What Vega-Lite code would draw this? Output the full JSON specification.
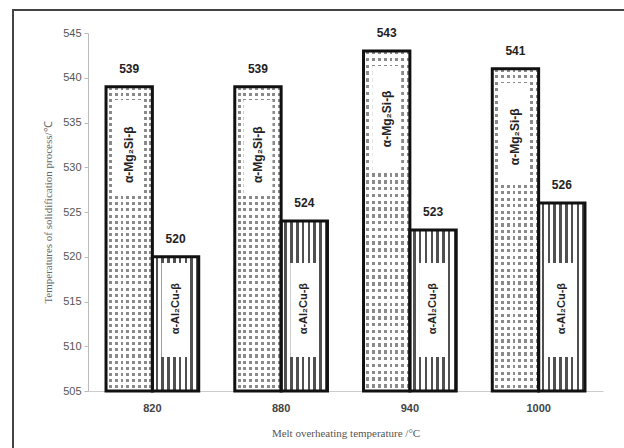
{
  "$schema": "https://vega.github.io/schema/vega-lite/v6.json",
  "width": 621,
  "height": 448,
  "autosize": {"type": "none"},
  "padding": {"left": 13, "top": 10, "right": -10, "bottom": -10},
  "background": "#ffffff",
  "config": {
    "view": {"stroke": "#444444", "strokeWidth": 2}
  },
  "data": {
    "values": [
      {"temp": "820", "phase": "Mg", "name": "α-Mg₂Si-β", "value": 539},
      {"temp": "820", "phase": "Al", "name": "α-Al₂Cu-β", "value": 520},
      {"temp": "880", "phase": "Mg", "name": "α-Mg₂Si-β", "value": 539},
      {"temp": "880", "phase": "Al", "name": "α-Al₂Cu-β", "value": 524},
      {"temp": "940", "phase": "Mg", "name": "α-Mg₂Si-β", "value": 543},
      {"temp": "940", "phase": "Al", "name": "α-Al₂Cu-β", "value": 523},
      {"temp": "1000", "phase": "Mg", "name": "α-Mg₂Si-β", "value": 541},
      {"temp": "1000", "phase": "Al", "name": "α-Al₂Cu-β", "value": 526}
    ]
  },
  "encoding": {
    "x": {
      "field": "temp", "type": "nominal", "sort": ["820", "880", "940", "1000"],
      "scale": {"range": [75, 590], "paddingInner": 0.28, "paddingOuter": 0.14},
      "axis": {"title": "Melt overheating temperature /°C", "offset": -67, "labelAngle": 0, "ticks": false, "domainColor": "#cccccc", "labelColor": "#444444", "labelFont": "Liberation Sans", "labelFontSize": 11, "labelFontWeight": "bold", "labelPadding": 11, "titleFont": "Liberation Serif", "titleFontSize": 11, "titleFontWeight": "normal", "titleColor": "#555555", "titlePadding": 14}
    },
    "xOffset": {"field": "phase", "type": "nominal", "sort": ["Mg", "Al"], "scale": {"paddingInner": 0, "paddingOuter": 0}},
    "y": {
      "field": "value", "type": "quantitative",
      "scale": {"domain": [505, 545], "range": [381, 23], "zero": false, "nice": false},
      "axis": {"title": "Temperatures of solidification process/℃", "offset": -75, "values": [505, 510, 515, 520, 525, 530, 535, 540, 545], "grid": false, "domainColor": "#bbbbbb", "tickColor": "#bbbbbb", "tickSize": 4, "labelColor": "#555555", "labelFont": "Liberation Sans", "labelFontSize": 11, "labelPadding": 3, "titleFont": "Liberation Serif", "titleFontSize": 11, "titleFontWeight": "normal", "titleColor": "#666666", "titlePadding": 9}
    }
  },
  "layer": [
    {
      "transform": [{"filter": "datum.phase === 'Mg'"}],
      "mark": {"type": "bar", "strokeWidth": 0, "fill": {"gradient": "linear", "x1": 0, "y1": 0, "x2": 1, "y2": 0, "stops": [
        {"offset": 0, "color": "#ffffff"}, {"offset": 0.0625, "color": "#ffffff"}, {"offset": 0.0625, "color": "#8a8a8a"}, {"offset": 0.125, "color": "#8a8a8a"},
        {"offset": 0.125, "color": "#ffffff"}, {"offset": 0.1875, "color": "#ffffff"}, {"offset": 0.1875, "color": "#8a8a8a"}, {"offset": 0.25, "color": "#8a8a8a"},
        {"offset": 0.25, "color": "#ffffff"}, {"offset": 0.3125, "color": "#ffffff"}, {"offset": 0.3125, "color": "#8a8a8a"}, {"offset": 0.375, "color": "#8a8a8a"},
        {"offset": 0.375, "color": "#ffffff"}, {"offset": 0.4375, "color": "#ffffff"}, {"offset": 0.4375, "color": "#8a8a8a"}, {"offset": 0.5, "color": "#8a8a8a"},
        {"offset": 0.5, "color": "#ffffff"}, {"offset": 0.5625, "color": "#ffffff"}, {"offset": 0.5625, "color": "#8a8a8a"}, {"offset": 0.625, "color": "#8a8a8a"},
        {"offset": 0.625, "color": "#ffffff"}, {"offset": 0.6875, "color": "#ffffff"}, {"offset": 0.6875, "color": "#8a8a8a"}, {"offset": 0.75, "color": "#8a8a8a"},
        {"offset": 0.75, "color": "#ffffff"}, {"offset": 0.8125, "color": "#ffffff"}, {"offset": 0.8125, "color": "#8a8a8a"}, {"offset": 0.875, "color": "#8a8a8a"},
        {"offset": 0.875, "color": "#ffffff"}, {"offset": 0.9375, "color": "#ffffff"}, {"offset": 0.9375, "color": "#8a8a8a"}, {"offset": 1, "color": "#8a8a8a"}
      ]}},
      "encoding": {"y2": {"datum": 505}}
    },
    {
      "transform": [{"filter": "datum.phase === 'Mg'"}],
      "mark": {"type": "bar", "strokeWidth": 0, "fill": {"gradient": "linear", "x1": 0, "y1": 0, "x2": 0, "y2": 1, "stops": [
        {"offset": 0, "color": "transparent"}, {"offset": 0.01, "color": "transparent"}, {"offset": 0.01, "color": "#ffffff"}, {"offset": 0.02, "color": "#ffffff"},
        {"offset": 0.02, "color": "transparent"}, {"offset": 0.03, "color": "transparent"}, {"offset": 0.03, "color": "#ffffff"}, {"offset": 0.04, "color": "#ffffff"},
        {"offset": 0.04, "color": "transparent"}, {"offset": 0.05, "color": "transparent"}, {"offset": 0.05, "color": "#ffffff"}, {"offset": 0.06, "color": "#ffffff"},
        {"offset": 0.06, "color": "transparent"}, {"offset": 0.07, "color": "transparent"}, {"offset": 0.07, "color": "#ffffff"}, {"offset": 0.08, "color": "#ffffff"},
        {"offset": 0.08, "color": "transparent"}, {"offset": 0.09, "color": "transparent"}, {"offset": 0.09, "color": "#ffffff"}, {"offset": 0.1, "color": "#ffffff"},
        {"offset": 0.1, "color": "transparent"}, {"offset": 0.11, "color": "transparent"}, {"offset": 0.11, "color": "#ffffff"}, {"offset": 0.12, "color": "#ffffff"},
        {"offset": 0.12, "color": "transparent"}, {"offset": 0.13, "color": "transparent"}, {"offset": 0.13, "color": "#ffffff"}, {"offset": 0.14, "color": "#ffffff"},
        {"offset": 0.14, "color": "transparent"}, {"offset": 0.15, "color": "transparent"}, {"offset": 0.15, "color": "#ffffff"}, {"offset": 0.16, "color": "#ffffff"},
        {"offset": 0.16, "color": "transparent"}, {"offset": 0.17, "color": "transparent"}, {"offset": 0.17, "color": "#ffffff"}, {"offset": 0.18, "color": "#ffffff"},
        {"offset": 0.18, "color": "transparent"}, {"offset": 0.19, "color": "transparent"}, {"offset": 0.19, "color": "#ffffff"}, {"offset": 0.2, "color": "#ffffff"},
        {"offset": 0.2, "color": "transparent"}, {"offset": 0.21, "color": "transparent"}, {"offset": 0.21, "color": "#ffffff"}, {"offset": 0.22, "color": "#ffffff"},
        {"offset": 0.22, "color": "transparent"}, {"offset": 0.23, "color": "transparent"}, {"offset": 0.23, "color": "#ffffff"}, {"offset": 0.24, "color": "#ffffff"},
        {"offset": 0.24, "color": "transparent"}, {"offset": 0.25, "color": "transparent"}, {"offset": 0.25, "color": "#ffffff"}, {"offset": 0.26, "color": "#ffffff"},
        {"offset": 0.26, "color": "transparent"}, {"offset": 0.27, "color": "transparent"}, {"offset": 0.27, "color": "#ffffff"}, {"offset": 0.28, "color": "#ffffff"},
        {"offset": 0.28, "color": "transparent"}, {"offset": 0.29, "color": "transparent"}, {"offset": 0.29, "color": "#ffffff"}, {"offset": 0.3, "color": "#ffffff"},
        {"offset": 0.3, "color": "transparent"}, {"offset": 0.31, "color": "transparent"}, {"offset": 0.31, "color": "#ffffff"}, {"offset": 0.32, "color": "#ffffff"},
        {"offset": 0.32, "color": "transparent"}, {"offset": 0.33, "color": "transparent"}, {"offset": 0.33, "color": "#ffffff"}, {"offset": 0.34, "color": "#ffffff"},
        {"offset": 0.34, "color": "transparent"}, {"offset": 0.35, "color": "transparent"}, {"offset": 0.35, "color": "#ffffff"}, {"offset": 0.36, "color": "#ffffff"},
        {"offset": 0.36, "color": "transparent"}, {"offset": 0.37, "color": "transparent"}, {"offset": 0.37, "color": "#ffffff"}, {"offset": 0.38, "color": "#ffffff"},
        {"offset": 0.38, "color": "transparent"}, {"offset": 0.39, "color": "transparent"}, {"offset": 0.39, "color": "#ffffff"}, {"offset": 0.4, "color": "#ffffff"},
        {"offset": 0.4, "color": "transparent"}, {"offset": 0.41, "color": "transparent"}, {"offset": 0.41, "color": "#ffffff"}, {"offset": 0.42, "color": "#ffffff"},
        {"offset": 0.42, "color": "transparent"}, {"offset": 0.43, "color": "transparent"}, {"offset": 0.43, "color": "#ffffff"}, {"offset": 0.44, "color": "#ffffff"},
        {"offset": 0.44, "color": "transparent"}, {"offset": 0.45, "color": "transparent"}, {"offset": 0.45, "color": "#ffffff"}, {"offset": 0.46, "color": "#ffffff"},
        {"offset": 0.46, "color": "transparent"}, {"offset": 0.47, "color": "transparent"}, {"offset": 0.47, "color": "#ffffff"}, {"offset": 0.48, "color": "#ffffff"},
        {"offset": 0.48, "color": "transparent"}, {"offset": 0.49, "color": "transparent"}, {"offset": 0.49, "color": "#ffffff"}, {"offset": 0.5, "color": "#ffffff"},
        {"offset": 0.5, "color": "transparent"}, {"offset": 0.51, "color": "transparent"}, {"offset": 0.51, "color": "#ffffff"}, {"offset": 0.52, "color": "#ffffff"},
        {"offset": 0.52, "color": "transparent"}, {"offset": 0.53, "color": "transparent"}, {"offset": 0.53, "color": "#ffffff"}, {"offset": 0.54, "color": "#ffffff"},
        {"offset": 0.54, "color": "transparent"}, {"offset": 0.55, "color": "transparent"}, {"offset": 0.55, "color": "#ffffff"}, {"offset": 0.56, "color": "#ffffff"},
        {"offset": 0.56, "color": "transparent"}, {"offset": 0.57, "color": "transparent"}, {"offset": 0.57, "color": "#ffffff"}, {"offset": 0.58, "color": "#ffffff"},
        {"offset": 0.58, "color": "transparent"}, {"offset": 0.59, "color": "transparent"}, {"offset": 0.59, "color": "#ffffff"}, {"offset": 0.6, "color": "#ffffff"},
        {"offset": 0.6, "color": "transparent"}, {"offset": 0.61, "color": "transparent"}, {"offset": 0.61, "color": "#ffffff"}, {"offset": 0.62, "color": "#ffffff"},
        {"offset": 0.62, "color": "transparent"}, {"offset": 0.63, "color": "transparent"}, {"offset": 0.63, "color": "#ffffff"}, {"offset": 0.64, "color": "#ffffff"},
        {"offset": 0.64, "color": "transparent"}, {"offset": 0.65, "color": "transparent"}, {"offset": 0.65, "color": "#ffffff"}, {"offset": 0.66, "color": "#ffffff"},
        {"offset": 0.66, "color": "transparent"}, {"offset": 0.67, "color": "transparent"}, {"offset": 0.67, "color": "#ffffff"}, {"offset": 0.68, "color": "#ffffff"},
        {"offset": 0.68, "color": "transparent"}, {"offset": 0.69, "color": "transparent"}, {"offset": 0.69, "color": "#ffffff"}, {"offset": 0.7, "color": "#ffffff"},
        {"offset": 0.7, "color": "transparent"}, {"offset": 0.71, "color": "transparent"}, {"offset": 0.71, "color": "#ffffff"}, {"offset": 0.72, "color": "#ffffff"},
        {"offset": 0.72, "color": "transparent"}, {"offset": 0.73, "color": "transparent"}, {"offset": 0.73, "color": "#ffffff"}, {"offset": 0.74, "color": "#ffffff"},
        {"offset": 0.74, "color": "transparent"}, {"offset": 0.75, "color": "transparent"}, {"offset": 0.75, "color": "#ffffff"}, {"offset": 0.76, "color": "#ffffff"},
        {"offset": 0.76, "color": "transparent"}, {"offset": 0.77, "color": "transparent"}, {"offset": 0.77, "color": "#ffffff"}, {"offset": 0.78, "color": "#ffffff"},
        {"offset": 0.78, "color": "transparent"}, {"offset": 0.79, "color": "transparent"}, {"offset": 0.79, "color": "#ffffff"}, {"offset": 0.8, "color": "#ffffff"},
        {"offset": 0.8, "color": "transparent"}, {"offset": 0.81, "color": "transparent"}, {"offset": 0.81, "color": "#ffffff"}, {"offset": 0.82, "color": "#ffffff"},
        {"offset": 0.82, "color": "transparent"}, {"offset": 0.83, "color": "transparent"}, {"offset": 0.83, "color": "#ffffff"}, {"offset": 0.84, "color": "#ffffff"},
        {"offset": 0.84, "color": "transparent"}, {"offset": 0.85, "color": "transparent"}, {"offset": 0.85, "color": "#ffffff"}, {"offset": 0.86, "color": "#ffffff"},
        {"offset": 0.86, "color": "transparent"}, {"offset": 0.87, "color": "transparent"}, {"offset": 0.87, "color": "#ffffff"}, {"offset": 0.88, "color": "#ffffff"},
        {"offset": 0.88, "color": "transparent"}, {"offset": 0.89, "color": "transparent"}, {"offset": 0.89, "color": "#ffffff"}, {"offset": 0.9, "color": "#ffffff"},
        {"offset": 0.9, "color": "transparent"}, {"offset": 0.91, "color": "transparent"}, {"offset": 0.91, "color": "#ffffff"}, {"offset": 0.92, "color": "#ffffff"},
        {"offset": 0.92, "color": "transparent"}, {"offset": 0.93, "color": "transparent"}, {"offset": 0.93, "color": "#ffffff"}, {"offset": 0.94, "color": "#ffffff"},
        {"offset": 0.94, "color": "transparent"}, {"offset": 0.95, "color": "transparent"}, {"offset": 0.95, "color": "#ffffff"}, {"offset": 0.96, "color": "#ffffff"},
        {"offset": 0.96, "color": "transparent"}, {"offset": 0.97, "color": "transparent"}, {"offset": 0.97, "color": "#ffffff"}, {"offset": 0.98, "color": "#ffffff"},
        {"offset": 0.98, "color": "transparent"}, {"offset": 0.99, "color": "transparent"}, {"offset": 0.99, "color": "#ffffff"}, {"offset": 1, "color": "#ffffff"}
      ]}},
      "encoding": {"y2": {"datum": 505}}
    },
    {
      "transform": [{"filter": "datum.phase === 'Al'"}],
      "mark": {"type": "bar", "strokeWidth": 0, "fill": {"gradient": "linear", "x1": 0, "y1": 0, "x2": 1, "y2": 0, "stops": [
        {"offset": 0, "color": "#ffffff"}, {"offset": 0.07, "color": "#ffffff"}, {"offset": 0.07, "color": "#505050"}, {"offset": 0.125, "color": "#505050"},
        {"offset": 0.125, "color": "#ffffff"}, {"offset": 0.195, "color": "#ffffff"}, {"offset": 0.195, "color": "#505050"}, {"offset": 0.25, "color": "#505050"},
        {"offset": 0.25, "color": "#ffffff"}, {"offset": 0.32, "color": "#ffffff"}, {"offset": 0.32, "color": "#505050"}, {"offset": 0.375, "color": "#505050"},
        {"offset": 0.375, "color": "#ffffff"}, {"offset": 0.445, "color": "#ffffff"}, {"offset": 0.445, "color": "#505050"}, {"offset": 0.5, "color": "#505050"},
        {"offset": 0.5, "color": "#ffffff"}, {"offset": 0.57, "color": "#ffffff"}, {"offset": 0.57, "color": "#505050"}, {"offset": 0.625, "color": "#505050"},
        {"offset": 0.625, "color": "#ffffff"}, {"offset": 0.695, "color": "#ffffff"}, {"offset": 0.695, "color": "#505050"}, {"offset": 0.75, "color": "#505050"},
        {"offset": 0.75, "color": "#ffffff"}, {"offset": 0.82, "color": "#ffffff"}, {"offset": 0.82, "color": "#505050"}, {"offset": 0.875, "color": "#505050"},
        {"offset": 0.875, "color": "#ffffff"}, {"offset": 0.945, "color": "#ffffff"}, {"offset": 0.945, "color": "#505050"}, {"offset": 1, "color": "#505050"}
      ]}},
      "encoding": {"y2": {"datum": 505}}
    },
    {
      "transform": [{"filter": "datum.phase === 'Mg'"}],
      "mark": {"type": "bar", "width": 29, "strokeWidth": 0, "fill": {"gradient": "linear", "x1": 0, "y1": 0, "x2": 0, "y2": 1, "stops": [
        {"offset": 0, "color": "transparent"}, {"offset": 0.045, "color": "transparent"}, {"offset": 0.045, "color": "#ffffff"}, {"offset": 0.36, "color": "#ffffff"}, {"offset": 0.36, "color": "transparent"}, {"offset": 1, "color": "transparent"}
      ]}},
      "encoding": {"y2": {"datum": 505}}
    },
    {
      "transform": [{"filter": "datum.phase === 'Al'"}],
      "mark": {"type": "bar", "width": 28, "strokeWidth": 0, "fill": "#ffffff"},
      "encoding": {"y": {"datum": 519.3}, "y2": {"datum": 508.8}}
    },
    {
      "mark": {"type": "bar", "fill": "#ffffff", "fillOpacity": 0, "stroke": "#111111", "strokeWidth": 3},
      "encoding": {"y2": {"datum": 505}}
    },
    {
      "mark": {"type": "text", "dy": -18, "baseline": "middle", "font": "Liberation Sans", "fontSize": 12, "fontWeight": "bold", "color": "#222222"},
      "encoding": {"text": {"field": "value", "type": "quantitative"}}
    },
    {
      "transform": [{"filter": "datum.phase === 'Mg'"}],
      "mark": {"type": "text", "angle": 270, "dx": -68, "align": "center", "baseline": "middle", "font": "Liberation Sans", "fontSize": 12, "fontWeight": "bold", "color": "#222222"},
      "encoding": {"text": {"field": "name", "type": "nominal"}}
    },
    {
      "transform": [{"filter": "datum.phase === 'Al'"}],
      "mark": {"type": "text", "angle": 270, "align": "center", "baseline": "middle", "font": "Liberation Sans", "fontSize": 11, "fontWeight": "bold", "color": "#222222"},
      "encoding": {"y": {"datum": 514.2}, "text": {"field": "name", "type": "nominal"}}
    }
  ]
}
